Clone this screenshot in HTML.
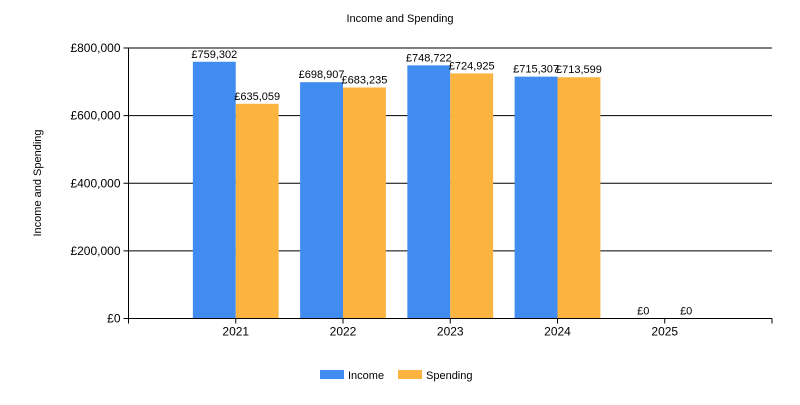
<!DOCTYPE html>
<html><head><meta charset="utf-8"><style>
body{margin:0;background:#fff;}
svg text{font-family:"Liberation Sans",Arial,sans-serif;fill:#000;}
</style></head><body>
<svg width="800" height="400" xmlns="http://www.w3.org/2000/svg">
<text x="400" y="22" font-size="11" text-anchor="middle">Income and Spending</text>
<text transform="translate(41,183) rotate(-90)" font-size="11" text-anchor="middle">Income and Spending</text>
<g id="grid"></g><g id="bars"></g><g id="axes"></g>
<g>
<rect x="320" y="370" width="24" height="9" fill="#418CF0"/>
<text x="348" y="379" font-size="11">Income</text>
<rect x="398" y="370" width="24" height="9" fill="#FCB441"/>
<text x="426" y="379" font-size="11">Spending</text>
</g>
</svg>
<script>
const categories=["2021","2022","2023","2024","2025"];
const income=[759302,698907,748722,715307,0];
const spending=[635059,683235,724925,713599,0];
const yTicks=[0,200000,400000,600000,800000];
const NS="http://www.w3.org/2000/svg";
const x0=128.5,x1=772,y0=318.5,y1=48,maxV=800000;
const slot=(x1-x0)/(categories.length+1);
const y=v=>y0-(v/maxV)*(y0-y1);
const cx=i=>x0+slot*(i+1);
function mk(t,a,p){const e=document.createElementNS(NS,t);for(const k in a)e.setAttribute(k,a[k]);p.appendChild(e);return e;}
const fmt=v=>"£"+v.toLocaleString("en-GB");
const grid=document.getElementById("grid"),bars=document.getElementById("bars"),axes=document.getElementById("axes");
yTicks.forEach(t=>{
 const l=mk("line",{x1:x0-5,x2:x1,y1:y(t),y2:y(t),stroke:"#000","stroke-width":1},grid);
 
 
 const tx=mk("text",{x:x0-8,y:y(t)+4,"font-size":12,"text-anchor":"end"},axes);
 tx.textContent=fmt(t);
 
 
});
const bw=slot*0.4;
categories.forEach((c,i)=>{
 [[income,"#418CF0",-1,"income"],[spending,"#FCB441",0,"spending"]].forEach(([arr,col,off,nm])=>{
  const v=arr[i],bx=cx(i)+off*bw;
  if(v>0){const r=mk("rect",{x:bx,y:y(v),width:bw,height:y0-y(v),fill:col},bars);
  
  }
  const t=mk("text",{x:bx+bw/2,y:y(v)-4,"font-size":11,"text-anchor":"middle"},bars);
  t.textContent=fmt(v);
  
  
 });
 const tk=mk("line",{x1:cx(i),x2:cx(i),y1:y0,y2:y0+5,stroke:"#000"},axes);
 
 
 const t=mk("text",{x:cx(i),y:y0+17,"font-size":12,"text-anchor":"middle"},axes);
 t.textContent=c;
 
 
});
[x0,x1].forEach(xx=>{const tk=mk("line",{x1:xx,x2:xx,y1:y0,y2:y0+5,stroke:"#000"},axes);
 
 });
const ya=mk("line",{x1:x0,x2:x0,y1:y1,y2:y0,stroke:"#000"},axes);


const xa=mk("line",{x1:x0,x2:x1,y1:y0,y2:y0,stroke:"#000"},axes);


</script>
</body></html>
